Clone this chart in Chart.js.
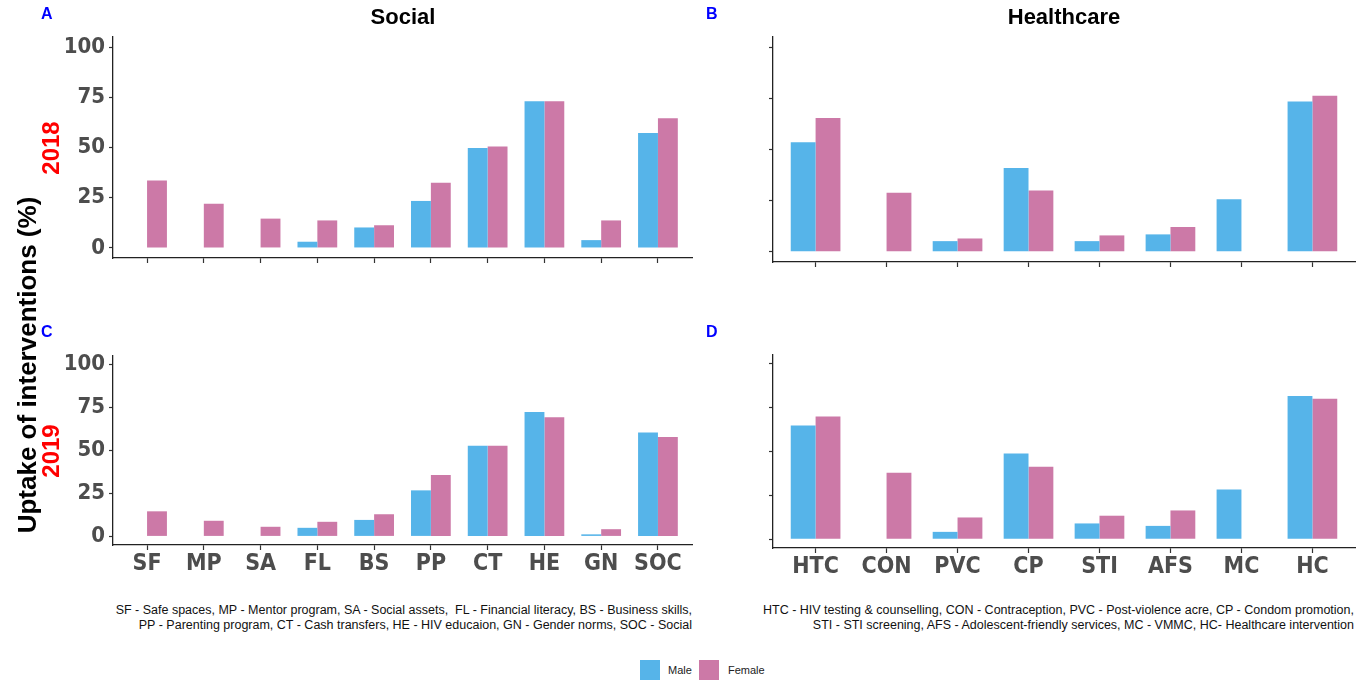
<!DOCTYPE html>
<html>
<head>
<meta charset="utf-8">
<script src="https://cdn.jsdelivr.net/npm/chart.js@4.4.0/dist/chart.umd.min.js"></script>
<style>
	body { margin: 0; background: #fff; width: 1370px; height: 681px; position: relative; overflow: hidden; font-family: 'Liberation Sans', Arial, sans-serif; }
	canvas { position: absolute; }
	.lbl { position: absolute; white-space: nowrap; }
	.panel { color: #0000ff; font-weight: bold; font-size: 16px; }
	.title { font-weight: bold; font-size: 22px; color: #000; transform: translateX(-50%); }
	.rot { transform: translate(-50%, -50%) rotate(-90deg); font-weight: bold; }
	.note { font-size: 12.5px; color: #111; text-align: right; line-height: 15px; }
	.key { position: absolute; width: 20px; height: 20px; }
	.keytxt { font-size: 11px; color: #222; }
</style>
</head>
<body>
	<canvas id="chartA" width="700" height="300" style="left:0;top:0"></canvas>
	<canvas id="chartB" width="670" height="300" style="left:700px;top:0"></canvas>
	<canvas id="chartC" width="700" height="280" style="left:0;top:320px"></canvas>
	<canvas id="chartD" width="670" height="280" style="left:700px;top:320px"></canvas>

	<div class="lbl panel" style="left:41px;top:5px">A</div>
	<div class="lbl panel" style="left:706px;top:5px">B</div>
	<div class="lbl panel" style="left:41px;top:323px">C</div>
	<div class="lbl panel" style="left:706px;top:323px">D</div>

	<div class="lbl title" style="left:403px;top:4px">Social</div>
	<div class="lbl title" style="left:1064px;top:4px">Healthcare</div>

	<div class="lbl rot" style="left:27px;top:365px;font-size:26px;color:#000">Uptake of interventions (%)</div>
	<div class="lbl rot" style="left:51px;top:148px;font-size:24px;color:#ff0000">2018</div>
	<div class="lbl rot" style="left:51px;top:451px;font-size:24px;color:#ff0000">2019</div>

	<div class="lbl note" style="right:678px;top:603px">SF - Safe spaces, MP - Mentor program, SA - Social assets,&nbsp; FL - Financial literacy, BS - Business skills,<br>PP - Parenting program, CT - Cash transfers, HE - HIV educaion, GN - Gender norms, SOC - Social</div>
	<div class="lbl note" style="right:16px;top:603px">HTC - HIV testing &amp; counselling, CON - Contraception, PVC - Post-violence acre, CP - Condom promotion,<br>STI - STI screening, AFS - Adolescent-friendly services, MC - VMMC, HC- Healthcare intervention</div>

	<div class="key" style="left:640px;top:660px;background:#56B4E9"></div>
	<div class="lbl keytxt" style="left:668px;top:664px">Male</div>
	<div class="key" style="left:699px;top:660px;background:#CC79A7"></div>
	<div class="lbl keytxt" style="left:728px;top:664px">Female</div>

	<script>
		// categories
		const socialCats = ['SF', 'MP', 'SA', 'FL', 'BS', 'PP', 'CT', 'HE', 'GN', 'SOC'];
		const healthCats = ['HTC', 'CON', 'PVC', 'CP', 'STI', 'AFS', 'MC', 'HC'];
		const yTicks = [0, 25, 50, 75, 100];

		// 2018 (panels A, B)
		const social2018Male = [null, null, null, 3.1, 10.2, 23.4, 49.8, 73.0, 3.9, 57.2];
		const social2018Female = [33.6, 22.0, 14.6, 13.7, 11.3, 32.4, 50.5, 73.0, 13.7, 64.6];
		const health2018Male = [53.6, null, 5.2, 41.0, 5.2, 8.5, 25.7, 73.5];
		const health2018Female = [65.4, 28.9, 6.5, 29.9, 8.0, 12.1, null, 76.3];

		// 2019 (panels C, D)
		const social2019Male = [null, null, null, 5.0, 9.6, 26.8, 52.8, 72.4, 1.2, 60.5];
		const social2019Female = [14.6, 9.1, 5.6, 8.5, 12.9, 35.8, 52.8, 69.4, 4.2, 57.8];
		const health2019Male = [64.8, null, 4.2, 48.9, 9.0, 7.6, 28.3, 81.6];
		const health2019Female = [70.0, 37.9, 12.4, 41.3, 13.4, 16.4, null, 80.1];

		const MALE = '#56B4E9';
		const FEMALE = '#CC79A7';
		const fam = "'Liberation Sans Narrow', 'DejaVu Sans Condensed', Arial, sans-serif";

		function make_chart(id, cats, male, female, o) {
			const pts = arr => arr.map((v, i) => ({ x: i, y: v }));
			return new Chart(document.getElementById(id), {
				type: 'bar',
				data: {
					datasets: [
						{ label: 'Male', data: pts(male), backgroundColor: MALE },
						{ label: 'Female', data: pts(female), backgroundColor: FEMALE }
					]
				},
				options: {
					responsive: false,
					animation: false,
					devicePixelRatio: 1,
					categoryPercentage: 0.7,
					barPercentage: 1.0,
					layout: { padding: { top: o.top, right: o.right, left: 0, bottom: 0 } },
					plugins: { legend: { display: false }, tooltip: { enabled: false } },
					scales: {
						x: {
							type: 'linear',
							offset: false,
							min: -0.6,
							max: cats.length - 1 + 0.6,
							afterBuildTicks: s => { s.ticks = cats.map((c, i) => ({ value: i })); },
							afterFit: s => { s.height = o.xh; },
							grid: { offset: false, drawOnChartArea: false, tickLength: 5, color: '#333', tickWidth: 1.2 },
							border: { display: true, color: '#222', width: 1.3 },
							ticks: {
								display: o.xlabels,
								autoSkip: false,
								maxRotation: 0,
								padding: 0,
								color: '#4D4D4D',
								font: { family: fam, size: 23, weight: 'bold' },
								callback: v => cats[v]
							}
						},
						y: {
							min: -5,
							max: 105,
							afterBuildTicks: s => { s.ticks = yTicks.map(v => ({ value: v })); },
							afterFit: s => { s.width = o.yw; },
							grid: { drawOnChartArea: false, tickLength: 4, color: '#333', tickWidth: 1.2 },
							border: { display: true, color: '#222', width: 1.3 },
							ticks: {
								display: o.ylabels,
								padding: 4,
								color: '#4D4D4D',
								font: { family: fam, size: 22, weight: 'bold' }
							}
						}
					}
				}
			});
		}

		make_chart('chartA', socialCats, social2018Male, social2018Female,
			{ top: 37, right: 8, yw: 113, xh: 42, xlabels: false, ylabels: true });
		make_chart('chartB', healthCats, health2018Male, health2018Female,
			{ top: 37, right: 15, yw: 73, xh: 38, xlabels: false, ylabels: false });
		make_chart('chartC', socialCats, social2019Male, social2019Female,
			{ top: 36, right: 8, yw: 113, xh: 55, xlabels: true, ylabels: true });
		make_chart('chartD', healthCats, health2019Male, health2019Female,
			{ top: 35, right: 15, yw: 73, xh: 52, xlabels: true, ylabels: false });
	</script>
</body>
</html>
